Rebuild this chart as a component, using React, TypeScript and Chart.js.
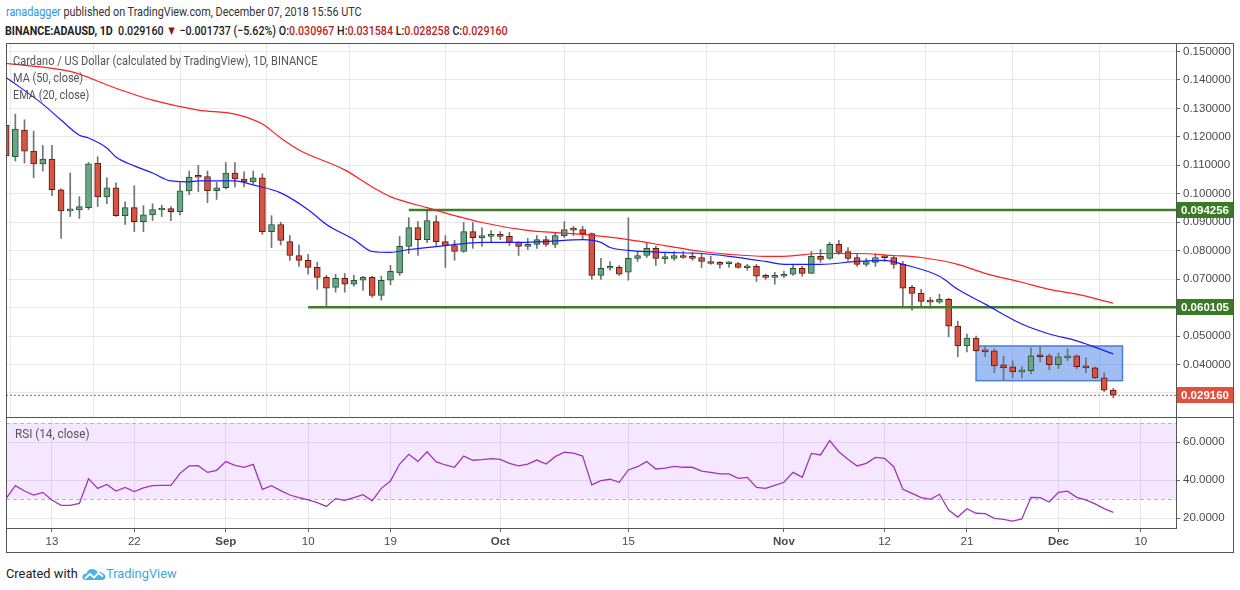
import React, { useEffect, useRef } from "react";
import { Chart, registerables } from "chart.js";

Chart.register(...registerables);

// ---------- data (day index 0 = 2018-08-08) ----------
const tickDays = [5, 14, 24, 33, 42, 54, 68, 85, 96, 105, 115, 124];
const tickLabels = ["13", "22", "Sep", "10", "19", "Oct", "15", "Nov", "12", "21", "Dec", "10"];
const monthNames = ["Sep", "Oct", "Nov", "Dec"];

const opens = [
  0.1241, 0.113, 0.1224, 0.115, 0.1105, 0.1122, 0.1014, 0.094, 0.0943, 0.0951,
  0.1108, 0.0989, 0.1021, 0.0923, 0.0951, 0.0902, 0.0926, 0.0943, 0.0948, 0.0937,
  0.101, 0.106, 0.106, 0.1011, 0.1021, 0.1073, 0.1052, 0.1042, 0.1056, 0.0867,
  0.0892, 0.0832, 0.0783, 0.0766, 0.0741, 0.0706, 0.0671, 0.0703, 0.0682, 0.0696,
  0.0706, 0.0643, 0.0696, 0.0722, 0.0815, 0.0881, 0.0839, 0.0902, 0.0832, 0.0818,
  0.0797, 0.0867, 0.0846, 0.085, 0.0857, 0.085, 0.0829, 0.0815, 0.0822, 0.0839,
  0.0822, 0.0853, 0.0876, 0.0874, 0.086, 0.0713, 0.0738, 0.0741, 0.0724, 0.0773,
  0.0783, 0.0808, 0.0772, 0.0773, 0.0783, 0.078, 0.0776, 0.0762, 0.0759, 0.0754,
  0.0755, 0.074, 0.0745, 0.0709, 0.0706, 0.071, 0.0717, 0.0738, 0.072, 0.078,
  0.0773, 0.0822, 0.0797, 0.0776, 0.0752, 0.0759, 0.0777, 0.0776, 0.0752, 0.0671,
  0.065, 0.0622, 0.0619, 0.0629, 0.0535, 0.0465, 0.0493, 0.0451, 0.0448, 0.0399,
  0.0392, 0.0374, 0.0378, 0.0434, 0.043, 0.0399, 0.0423, 0.043, 0.0395, 0.0388,
  0.0353, 0.030967,
];
const highs = [
  0.127, 0.128, 0.126, 0.122, 0.117, 0.117, 0.1017, 0.1073, 0.099, 0.111,
  0.113, 0.1056, 0.1038, 0.0972, 0.1028, 0.0958, 0.0965, 0.096, 0.0955, 0.1038,
  0.108, 0.11, 0.108, 0.104, 0.111, 0.111, 0.1077, 0.108, 0.107, 0.0923,
  0.09, 0.0853, 0.082, 0.0787, 0.0759, 0.0713, 0.0717, 0.072, 0.0713, 0.071,
  0.071, 0.071, 0.0748, 0.085, 0.0916, 0.0902, 0.0944, 0.0923, 0.0853, 0.0836,
  0.0899, 0.0899, 0.088, 0.0871, 0.0867, 0.0864, 0.0832, 0.0843, 0.0853, 0.085,
  0.0864, 0.0902, 0.0885, 0.0885, 0.0862, 0.0773, 0.0762, 0.0748, 0.0916, 0.0797,
  0.0829, 0.0815, 0.0794, 0.0797, 0.0797, 0.0794, 0.0787, 0.078, 0.0762, 0.0762,
  0.0759, 0.0752, 0.0752, 0.0717, 0.0724, 0.0727, 0.0748, 0.0745, 0.0797, 0.0804,
  0.0829, 0.0836, 0.0811, 0.0787, 0.0773, 0.079, 0.0783, 0.0783, 0.0762, 0.0678,
  0.0664, 0.0636, 0.0647, 0.0633, 0.0552, 0.0507, 0.05, 0.0465, 0.0455, 0.043,
  0.0413, 0.0392, 0.0458, 0.0462, 0.0437, 0.044, 0.0455, 0.0434, 0.0423, 0.0392,
  0.0371, 0.031584,
];
const lows = [
  0.112, 0.1115, 0.1108, 0.1056, 0.108, 0.0993, 0.0843, 0.092, 0.0913, 0.0944,
  0.0955, 0.0965, 0.092, 0.0892, 0.0867, 0.0867, 0.0906, 0.092, 0.0905, 0.0926,
  0.0997, 0.1007, 0.0969, 0.098, 0.1017, 0.1024, 0.1024, 0.1035, 0.0857, 0.0811,
  0.082, 0.0766, 0.0745, 0.0717, 0.0664, 0.0605, 0.0654, 0.0654, 0.0675, 0.066,
  0.0636, 0.0626, 0.068, 0.0713, 0.079, 0.0783, 0.0828, 0.0815, 0.0741, 0.0766,
  0.0794, 0.0808, 0.0815, 0.0829, 0.0839, 0.0818, 0.0783, 0.0804, 0.0808, 0.0815,
  0.0811, 0.0846, 0.0853, 0.0839, 0.0699, 0.0699, 0.0731, 0.0713, 0.0696, 0.0762,
  0.0776, 0.0748, 0.0755, 0.0766, 0.0773, 0.0766, 0.0741, 0.0752, 0.0738, 0.0741,
  0.0738, 0.0731, 0.0692, 0.0699, 0.0682, 0.0706, 0.0713, 0.071, 0.072, 0.0759,
  0.0769, 0.0787, 0.0766, 0.0745, 0.0745, 0.0745, 0.0762, 0.0738, 0.0605, 0.0591,
  0.0605, 0.0598, 0.0615, 0.0497, 0.0427, 0.0444, 0.0446, 0.0427, 0.0371, 0.0343,
  0.0353, 0.0353, 0.0367, 0.0409, 0.0381, 0.0385, 0.0413, 0.0385, 0.0371, 0.035,
  0.0305, 0.028258,
];
const closes = [
  0.1133, 0.1227, 0.115, 0.1105, 0.1122, 0.1014, 0.094, 0.0942, 0.0955, 0.1105,
  0.0989, 0.1021, 0.0923, 0.0951, 0.0902, 0.0926, 0.0944, 0.0945, 0.0937, 0.101,
  0.1059, 0.1058, 0.1011, 0.1021, 0.1073, 0.1052, 0.1042, 0.1056, 0.0867, 0.0892,
  0.0836, 0.0783, 0.0766, 0.0741, 0.0706, 0.0668, 0.0703, 0.0682, 0.0696, 0.0706,
  0.0643, 0.0696, 0.0727, 0.0815, 0.0881, 0.0839, 0.0906, 0.0832, 0.0818, 0.0797,
  0.0867, 0.0846, 0.085, 0.0857, 0.085, 0.0829, 0.0815, 0.0822, 0.0839, 0.0822,
  0.0853, 0.0874, 0.0872, 0.086, 0.0713, 0.0738, 0.0741, 0.0717, 0.0773, 0.0783,
  0.0808, 0.0773, 0.0774, 0.0783, 0.0776, 0.0773, 0.0762, 0.0755, 0.0752, 0.0756,
  0.0741, 0.0742, 0.071, 0.0706, 0.0713, 0.0717, 0.0738, 0.072, 0.078, 0.0769,
  0.0822, 0.0794, 0.0773, 0.0752, 0.0762, 0.0776, 0.0775, 0.0752, 0.0668, 0.065,
  0.0622, 0.0619, 0.0629, 0.0535, 0.0465, 0.0493, 0.0448, 0.0444, 0.0395, 0.0388,
  0.0374, 0.0378, 0.043, 0.0427, 0.0399, 0.0427, 0.043, 0.0392, 0.0388, 0.0353,
  0.031, 0.02916,
];

const maDays = [0, 7, 12, 16, 21, 25, 28, 30, 32, 37, 40, 42, 46, 52, 57, 63, 68, 72, 76, 79, 83, 85, 89, 93, 97, 100, 104, 107, 111, 114, 117, 121];
const maValues = [0.1458, 0.143, 0.1371, 0.1329, 0.1294, 0.128, 0.1245, 0.1196, 0.1154, 0.1084, 0.1024, 0.099, 0.0951, 0.0899, 0.0871, 0.0857, 0.0839, 0.0818, 0.0797, 0.0787, 0.078, 0.078, 0.079, 0.079, 0.0783, 0.0776, 0.0752, 0.072, 0.0689, 0.0664, 0.0647, 0.0615];

const emaDays = [0, 4, 6, 8, 9, 11, 12, 14, 16, 18, 20, 21, 25, 27, 30, 33, 35, 38, 40, 42, 44, 48, 52, 55, 59, 63, 65, 66, 68, 72, 76, 79, 83, 85, 89, 93, 96, 98, 102, 104, 107, 111, 114, 117, 121];
const emaValues = [0.1409, 0.1315, 0.1259, 0.1206, 0.1196, 0.1161, 0.1129, 0.1098, 0.1073, 0.1045, 0.1042, 0.1045, 0.1045, 0.1031, 0.1003, 0.0944, 0.0892, 0.0839, 0.0797, 0.0794, 0.0804, 0.0818, 0.0829, 0.0829, 0.0832, 0.0839, 0.0829, 0.0811, 0.0801, 0.0794, 0.079, 0.078, 0.0762, 0.0752, 0.0752, 0.0762, 0.0766, 0.0752, 0.071, 0.0664, 0.0612, 0.0542, 0.0507, 0.0483, 0.0437];

const rsiValues = [
  30.4, 37.0, 34.2, 32.1, 33.5, 29.5, 26.7, 26.7, 27.7, 40.7,
  35.6, 37.7, 34.2, 36.1, 33.9, 35.8, 37.0, 37.2, 37.2, 43.5,
  47.4, 47.5, 44.0, 45.1, 49.7, 47.7, 46.7, 48.2, 35.1, 37.0,
  34.4, 32.1, 30.7, 29.5, 28.1, 26.1, 30.2, 29.3, 30.7, 32.3,
  29.0, 35.6, 39.5, 48.4, 53.5, 49.8, 54.9, 49.5, 47.9, 46.7,
  52.6, 50.4, 50.7, 51.2, 50.9, 48.8, 47.4, 48.4, 50.5, 48.4,
  52.3, 54.6, 54.2, 52.6, 37.4, 39.7, 40.4, 38.8, 45.3, 47.0,
  49.7, 45.8, 46.2, 47.2, 46.7, 46.7, 44.7, 44.0, 43.2, 43.2,
  40.9, 41.4, 36.1, 35.6, 37.2, 38.8, 44.0, 41.4, 54.0, 53.2,
  60.7, 54.9, 50.9, 47.4, 48.8, 51.9, 51.4, 47.0, 35.1, 33.0,
  30.7, 29.8, 32.5, 24.2, 20.5, 24.9, 22.5, 22.3, 19.8, 19.3,
  18.4, 19.5, 30.9, 30.7, 28.4, 33.5, 34.1, 30.9, 29.5, 27.4,
  24.9, 23.0,
];

const levelPrices = [0.094256, 0.060105];
const levelStartDays = [44, 33];
const lastPrice = 0.02916;
const rangeBoxDays = [106, 122];
const rangeBoxPrices = [0.0465, 0.0343];
const priceTicks = [0.03, 0.04, 0.05, 0.06, 0.07, 0.08, 0.09, 0.1, 0.11, 0.12, 0.13, 0.14, 0.15];
const rsiTicks = [20, 40, 60];
const rsiBand = [30, 70];

// ---------- view ----------
const X_MIN = -0.02;
const X_MAX = 127.85;
const PRICE_MIN = 0.02153;
const PRICE_MAX = 0.15299;
const RSI_MIN = 14.74;
const RSI_MAX = 73.16;
const AXIS_FONT = "'Liberation Sans', Arial, sans-serif";
const UI_FONT = "Roboto, 'Liberation Sans', sans-serif";
const GRID = "#e8e8e8";
const AXIS_W = 58;

const UP_FILL = "#6ba583";
const UP_LINE = "#225437";
const DOWN_FILL = "#d75442";
const DOWN_LINE = "#5b1a13";
const WICK = "#737375";

function xScale(showLabels: boolean): any {
  return {
    type: "linear",
    min: X_MIN,
    max: X_MAX,
    offset: false,
    afterBuildTicks: (a: any) => {
      a.ticks = tickDays.map((v) => ({ value: v }));
    },
    afterFit: (s: any) => {
      s.height = showLabels ? 25 : 0;
      s.paddingLeft = 0;
      s.paddingRight = 0;
    },
    border: { display: false },
    grid: {
      color: GRID,
      drawTicks: showLabels,
      tickLength: 4,
      tickColor: "#666",
    },
    ticks: showLabels
      ? {
          display: true,
          autoSkip: false,
          maxRotation: 0,
          padding: 3,
          color: "#4a4a4a",
          callback: (_v: any, i: number) => tickLabels[i],
          font: (ctx: any) => ({
            family: AXIS_FONT,
            size: 11.5,
            weight: monthNames.includes(tickLabels[ctx.index]) ? "bold" : "normal",
          }),
        }
      : { display: false },
  };
}

function yScale(min: number, max: number, ticks: number[], digits: number): any {
  return {
    position: "right",
    min,
    max,
    afterBuildTicks: (a: any) => {
      a.ticks = ticks.map((v) => ({ value: v }));
    },
    afterFit: (s: any) => {
      s.width = AXIS_W;
      s.paddingTop = 0;
      s.paddingBottom = 0;
    },
    border: { display: false },
    grid: { color: GRID, drawTicks: true, tickLength: 4, tickColor: "#666" },
    ticks: {
      padding: 3,
      color: "#4a4a4a",
      font: { family: AXIS_FONT, size: 11.5 },
      callback: (v: any) => Number(v).toFixed(digits),
    },
  };
}

const rangeBoxPlugin = {
  id: "rangeBox",
  beforeDatasetsDraw(chart: any) {
    const { ctx, scales } = chart;
    const x0 = scales.x.getPixelForValue(rangeBoxDays[0]);
    const x1 = scales.x.getPixelForValue(rangeBoxDays[1]);
    const y0 = scales.y.getPixelForValue(rangeBoxPrices[0]);
    const y1 = scales.y.getPixelForValue(rangeBoxPrices[1]);
    ctx.save();
    ctx.fillStyle = "rgba(66, 126, 228, 0.5)";
    ctx.fillRect(x0, y0, x1 - x0, y1 - y0);
    ctx.strokeStyle = "#4a7fe0";
    ctx.lineWidth = 1.5;
    ctx.strokeRect(x0, y0, x1 - x0, y1 - y0);
    ctx.restore();
  },
};

const priceTagPlugin = {
  id: "priceTags",
  afterDraw(chart: any) {
    const { ctx, chartArea, scales } = chart;
    const tags = [
      ...levelPrices.map((p) => ({ p, bg: "#3a7a24" })),
      { p: lastPrice, bg: "#e0513d" },
    ];
    ctx.save();
    tags.forEach(({ p, bg }) => {
      const py = Math.round(scales.y.getPixelForValue(p));
      ctx.fillStyle = bg;
      ctx.fillRect(chartArea.right, py - 8, chart.width - chartArea.right - 1, 16);
      ctx.fillStyle = "#ffffff";
      ctx.font = `bold 11.5px ${AXIS_FONT}`;
      ctx.textBaseline = "middle";
      ctx.textAlign = "left";
      ctx.fillText(p.toFixed(6), chartArea.right + 5, py + 0.5);
    });
    ctx.restore();
  },
};

const rsiBandPlugin = {
  id: "rsiBand",
  beforeDatasetsDraw(chart: any) {
    const { ctx, chartArea, scales } = chart;
    const yTop = scales.y.getPixelForValue(rsiBand[1]);
    const yBot = scales.y.getPixelForValue(rsiBand[0]);
    ctx.save();
    ctx.fillStyle = "rgba(153, 21, 255, 0.1)";
    ctx.fillRect(chartArea.left, yTop, chartArea.right - chartArea.left, yBot - yTop);
    ctx.strokeStyle = "#bcb3c6";
    ctx.lineWidth = 1;
    ctx.setLineDash([4, 3]);
    [yTop, yBot].forEach((y) => {
      ctx.beginPath();
      ctx.moveTo(chartArea.left, Math.round(y) + 0.5);
      ctx.lineTo(chartArea.right, Math.round(y) + 0.5);
      ctx.stroke();
    });
    ctx.restore();
  },
};

function priceConfig(): any {
  const isUp = closes.map((c, i) => c >= opens[i]);
  const bodies = closes.map((c, i) => ({ x: i, y: [opens[i], c] }));
  const wicks = closes.map((_c, i) => ({ x: i, y: [lows[i], highs[i]] }));
  const ma = maDays.map((d, i) => ({ x: d, y: maValues[i] }));
  const ema = emaDays.map((d, i) => ({ x: d, y: emaValues[i] }));
  const levelSets = levelPrices.map((p, i) => ({
    type: "line",
    data: [
      { x: levelStartDays[i], y: p },
      { x: X_MAX, y: p },
    ],
    borderColor: "#3f7d2b",
    borderWidth: 2.5,
    pointRadius: 0,
    order: 0,
  }));
  return {
    type: "bar",
    data: {
      datasets: [
        {
          type: "line",
          data: ema,
          borderColor: "#1a1aff",
          borderWidth: 1.2,
          pointRadius: 0,
          cubicInterpolationMode: "monotone",
          order: 0,
        },
        {
          type: "line",
          data: ma,
          borderColor: "#ff2020",
          borderWidth: 1.2,
          pointRadius: 0,
          cubicInterpolationMode: "monotone",
          order: 0,
        },
        ...levelSets,
        {
          type: "line",
          data: [
            { x: X_MIN, y: lastPrice },
            { x: X_MAX, y: lastPrice },
          ],
          borderColor: "#e0513d",
          borderWidth: 1,
          borderDash: [2, 2],
          pointRadius: 0,
          order: 0,
        },
        {
          type: "bar",
          data: bodies,
          grouped: false,
          barThickness: 6,
          minBarLength: 2,
          borderWidth: 1,
          borderSkipped: false,
          backgroundColor: isUp.map((u) => (u ? UP_FILL : DOWN_FILL)),
          borderColor: isUp.map((u) => (u ? UP_LINE : DOWN_LINE)),
          order: 5,
        },
        {
          type: "bar",
          data: wicks,
          grouped: false,
          barThickness: 1,
          borderWidth: 0,
          backgroundColor: WICK,
          order: 6,
        },
      ],
    },
    options: {
      animation: false,
      responsive: false,
      maintainAspectRatio: false,
      events: [],
      layout: { padding: 0, autoPadding: false },
      plugins: { legend: { display: false }, tooltip: { enabled: false } },
      scales: {
        x: xScale(false),
        y: yScale(PRICE_MIN, PRICE_MAX, priceTicks, 6),
      },
    },
    plugins: [rangeBoxPlugin, priceTagPlugin],
  };
}

function rsiConfig(): any {
  const pts = rsiValues.map((v, i) => ({ x: i, y: v }));
  return {
    type: "line",
    data: {
      datasets: [
        {
          data: pts,
          borderColor: "#a035b8",
          borderWidth: 1.3,
          pointRadius: 0,
          tension: 0,
        },
      ],
    },
    options: {
      animation: false,
      responsive: false,
      maintainAspectRatio: false,
      events: [],
      layout: { padding: 0, autoPadding: false },
      plugins: { legend: { display: false }, tooltip: { enabled: false } },
      scales: {
        x: xScale(true),
        y: yScale(RSI_MIN, RSI_MAX, rsiTicks, 4),
      },
    },
    plugins: [rsiBandPlugin],
  };
}

function Line({ l, t, w, h }: { l: number; t: number; w: number; h: number }) {
  return (
    <div
      style={{ position: "absolute", left: l, top: t, width: w, height: h, background: "#555" }}
    />
  );
}

const textBase: React.CSSProperties = {
  position: "absolute",
  whiteSpace: "nowrap",
  lineHeight: "16px",
  transformOrigin: "left center",
  fontFamily: UI_FONT,
};

export default function App() {
  const priceRef = useRef<HTMLCanvasElement>(null);
  const rsiRef = useRef<HTMLCanvasElement>(null);

  useEffect(() => {
    document.body.style.margin = "0";
    Chart.defaults.font.family = AXIS_FONT;
    const c1 = new Chart(priceRef.current as HTMLCanvasElement, priceConfig());
    const c2 = new Chart(rsiRef.current as HTMLCanvasElement, rsiConfig());
    return () => {
      c1.destroy();
      c2.destroy();
    };
  }, []);

  return (
    <div
      style={{
        position: "relative",
        width: 1240,
        height: 590,
        background: "#ffffff",
        overflow: "hidden",
      }}
    >
      <div style={{ ...textBase, left: 6, top: 4, fontSize: 13, color: "#333", transform: "scaleX(0.833)" }}>
        <span style={{ color: "#2f96e8" }}>ranadagger</span> published on TradingView.com, December 07, 2018 15:56 UTC
      </div>
      <div
        style={{
          ...textBase,
          left: 5,
          top: 23,
          fontSize: 13,
          fontWeight: 500,
          color: "#222",
          transform: "scaleX(0.822)",
        }}
      >
        <span style={{ fontWeight: 700 }}>BINANCE:ADAUSD, 1D</span>&nbsp; 0.029160{" "}
        <span style={{ color: "#8b1a1a" }}>▼</span> −0.001737 (−5.62%){" "}
        O:<span style={{ color: "#b8261f" }}>0.030967</span> H:
        <span style={{ color: "#b8261f" }}>0.031584</span> L:
        <span style={{ color: "#b8261f" }}>0.028258</span> C:
        <span style={{ color: "#b8261f" }}>0.029160</span>
      </div>

      <canvas
        ref={priceRef}
        width={1228}
        height={374}
        style={{ position: "absolute", left: 6, top: 43, width: 1228, height: 374 }}
      />
      <canvas
        ref={rsiRef}
        width={1228}
        height={136}
        style={{ position: "absolute", left: 6, top: 417, width: 1228, height: 136 }}
      />

      <div style={{ ...textBase, left: 13, top: 53, fontSize: 13, color: "#555", transform: "scaleX(0.85)" }}>
        Cardano / US Dollar (calculated by TradingView), 1D, BINANCE
      </div>
      <div style={{ ...textBase, left: 13, top: 70, fontSize: 13, color: "#555", transform: "scaleX(0.84)" }}>
        MA (50, close)
      </div>
      <div style={{ ...textBase, left: 13, top: 87, fontSize: 13, color: "#555", transform: "scaleX(0.84)" }}>
        EMA (20, close)
      </div>
      <div style={{ ...textBase, left: 15, top: 426, fontSize: 13, color: "#555", transform: "scaleX(0.9)" }}>
        RSI (14, close)
      </div>

      {/* frame */}
      <Line l={6} t={43} w={1228} h={1} />
      <Line l={6} t={552} w={1228} h={1} />
      <Line l={6} t={43} w={1} h={510} />
      <Line l={1233} t={43} w={1} h={510} />
      <Line l={1176} t={43} w={1} h={485} />
      <Line l={6} t={417} w={1228} h={1} />
      <Line l={6} t={528} w={1171} h={1} />

      <div style={{ ...textBase, left: 6, top: 565, fontSize: 13.5, color: "#222", transform: "scaleX(0.95)" }}>
        Created with
      </div>
      <svg
        width="24"
        height="16"
        viewBox="0 0 24 16"
        style={{ position: "absolute", left: 82, top: 566 }}
      >
        <path
          d="M4 14 Q0 14 0.5 10.5 Q1.2 7.2 4.6 7.6 Q5.6 3 10.2 3 Q14.2 3 15.6 6.6 Q18.2 5.2 20.6 7.2 Q23.8 8.2 23.4 11.6 Q23 14 20 14 Z"
          fill="#4bb2e6"
        />
        <polyline points="3,12.5 8,8 12,11.5 16.5,7 21,10.5" stroke="#ffffff" strokeWidth="1.8" fill="none" />
      </svg>
      <div style={{ ...textBase, left: 106, top: 565, fontSize: 13.5, color: "#3aa8e0", transform: "scaleX(0.95)" }}>
        TradingView
      </div>
    </div>
  );
}
